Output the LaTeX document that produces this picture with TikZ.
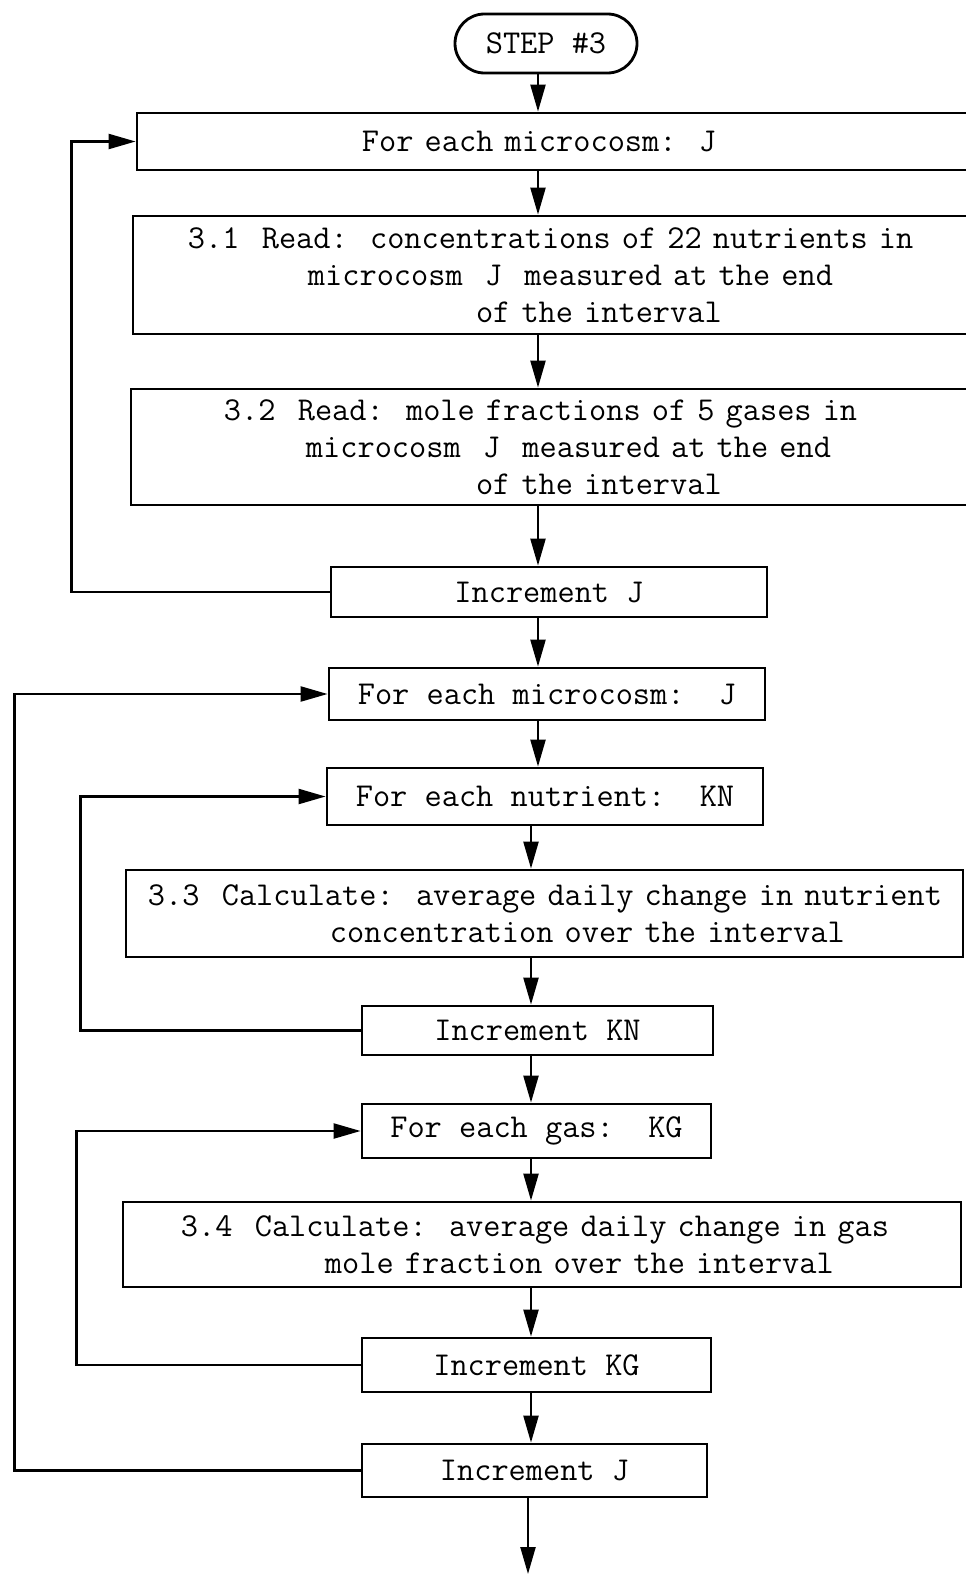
\documentclass[tikz,border=0pt]{standalone}
\usepackage{fontspec}
\usetikzlibrary{arrows.meta,positioning}

\begin{document}
\begin{tikzpicture}[x=0.2mm,y=-0.2mm,>={Triangle[length=5.4mm,width=3mm]},
  every node/.style={font=\fontsize{19}{21}\selectfont\ttfamily},
  blk/.style={draw,line width=1.6pt,inner sep=0pt},
  wide/.style={blk,align=left,text width=#1},
  flow/.style={line width=1.3pt}]
\useasboundingbox (0,0) rectangle (965,1574);
% arrow columns
\coordinate (cu) at (538,0);
\coordinate (cl) at (531,0);
\coordinate (out) at (528,1574);

\node[blk,rounded corners=5.9mm,minimum width=3.64cm,minimum height=1.18cm] (start) at (546,43.5) {STEP \#3};
\node[wide=17.06cm,minimum height=1.14cm] (forJ) at (563.5,141.5)
  {\hspace*{4.5cm}For each microcosm:~~J};
\node[wide=17.14cm,minimum height=2.36cm] (read1) at (561.5,275)
  {\hspace*{1.1cm}3.1~~Read:~~concentrations of 22 nutrients in\\
   \hspace*{3.5cm}microcosm~~J~~measured at the end\\
   \hspace*{6.86cm}of the interval};
\node[wide=17.18cm,minimum height=2.32cm] (read2) at (560.5,447)
  {\hspace*{1.86cm}3.2~~Read:~~mole fractions of 5 gases in\\
   \hspace*{3.5cm}microcosm~~J~~measured at the end\\
   \hspace*{6.9cm}of the interval};
\node[blk,minimum width=8.72cm,minimum height=1cm] (incJ) at (549,592) {Increment J};
\node[blk,minimum width=8.72cm,minimum height=1.04cm] (forJb) at (547,694) {For each microcosm:~~J};
\node[blk,minimum width=8.72cm,minimum height=1.14cm] (forKN) at (545,796.5) {For each nutrient:~~KN};
\node[wide=16.74cm,minimum height=1.74cm] (calcN) at (544.5,913.5)
  {\hspace*{0.44cm}3.3~~Calculate:~~average daily change in nutrient\\
   \hspace*{4.08cm}concentration over the interval};
\node[blk,minimum width=7.02cm,minimum height=0.98cm] (incKN) at (537.5,1030.5) {Increment KN};
\node[blk,minimum width=6.98cm,minimum height=1.08cm] (forKG) at (536.5,1131) {For each gas:~~KG};
\node[wide=16.76cm,minimum height=1.7cm] (calcG) at (542,1244.5)
  {\hspace*{1.16cm}3.4~~Calculate:~~average daily change in gas\\
   \hspace*{4.04cm}mole fraction over the interval};
\node[blk,minimum width=6.98cm,minimum height=1.08cm] (incKG) at (536.5,1365) {Increment KG};
\node[blk,minimum width=6.9cm,minimum height=1.06cm] (incJb) at (534.5,1470.5) {Increment J};

% main line
\draw[->,flow] (start.south -| cu) -- (forJ.north -| cu);
\draw[->,flow] (forJ.south -| cu) -- (read1.north -| cu);
\draw[->,flow] (read1.south -| cu) -- (read2.north -| cu);
\draw[->,flow] (read2.south -| cu) -- (incJ.north -| cu);
\draw[->,flow] (incJ.south -| cu) -- (forJb.north -| cu);
\draw[->,flow] (forJb.south -| cu) -- (forKN.north -| cu);
\draw[->,flow] (forKN.south -| cl) -- (calcN.north -| cl);
\draw[->,flow] (calcN.south -| cl) -- (incKN.north -| cl);
\draw[->,flow] (incKN.south -| cl) -- (forKG.north -| cl);
\draw[->,flow] (forKG.south -| cl) -- (calcG.north -| cl);
\draw[->,flow] (calcG.south -| cl) -- (incKG.north -| cl);
\draw[->,flow] (incKG.south -| cl) -- (incJb.north -| cl);
\draw[->,flow] (incJb.south -| out) -- (out);
% loops back
\draw[->,flow] (incJ.west) -- ++(-258,0) |- (forJ.west);
\draw[->,flow] (incKN.west) -- ++(-280,0) |- (forKN.west);
\draw[->,flow] (incKG.west) -- ++(-284,0) |- (forKG.west);
\draw[->,flow] (incJb.west) -- ++(-346,0) |- (forJb.west);
\end{tikzpicture}
\end{document}
